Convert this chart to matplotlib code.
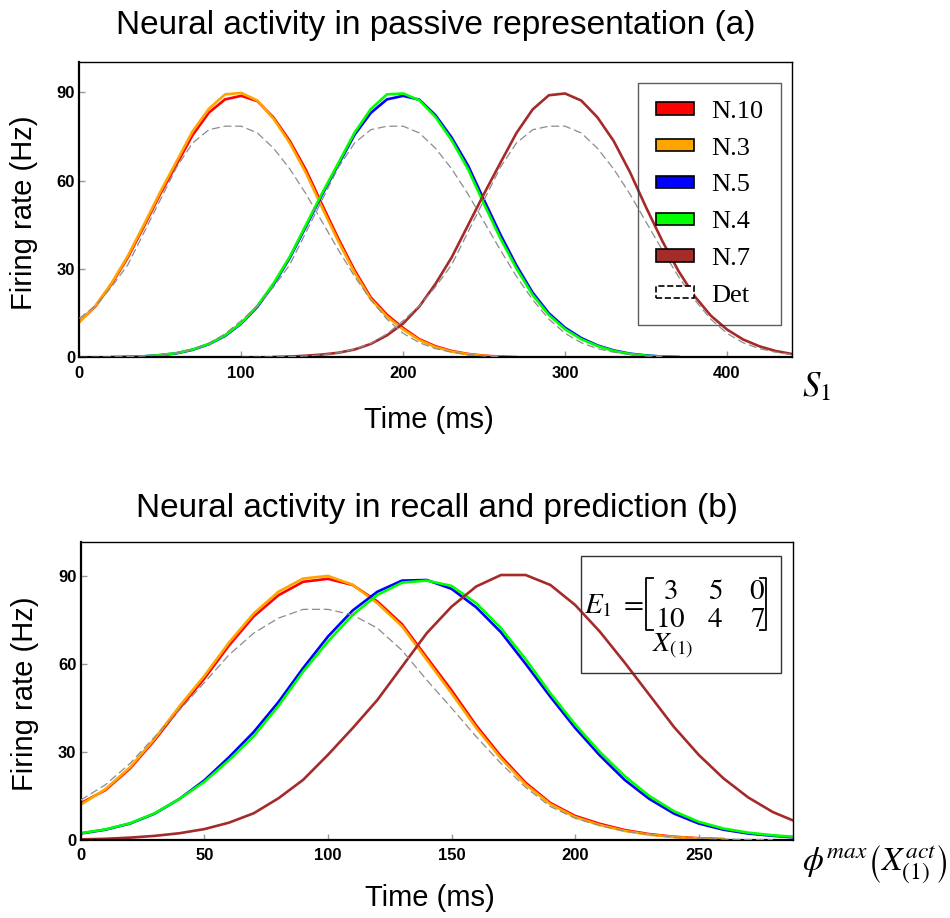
import numpy as np
import matplotlib
matplotlib.use('Agg')
from matplotlib import pyplot as plt
from matplotlib.patches import Patch, Rectangle

plt.rcParams['font.family'] = ['Liberation Sans', 'DejaVu Sans']
plt.rcParams['mathtext.fontset'] = 'stix'

# ---- data: panel (a), passive representation ----
t_a_n10 = np.arange(0, 280, 10)
n10_a = [12.2, 17.4, 25.0, 34.0, 44.6, 55.5, 65.5, 75.5, 83.1, 87.6, 88.8, 87.0, 81.4, 73.5,
         63.6, 51.8, 40.3, 29.6, 20.4, 14.5, 10.0, 6.2, 3.8, 2.2, 1.2, 0.6, 0.3, 0.1]
n3_a = [12.0, 17.6, 25.3, 34.5, 45.2, 56.2, 66.5, 76.8, 84.4, 89.3, 89.8, 87.2, 81.0, 72.8,
        62.6, 50.8, 39.4, 28.8, 19.8, 13.9, 9.5, 5.9, 3.5, 2.0, 1.1, 0.5, 0.2, 0.1]
t_a_n5 = np.arange(20, 380, 10)
n5_a = [0.1, 0.2, 0.4, 0.8, 1.4, 2.6, 4.5, 7.3, 11.5, 17.2, 24.8, 33.8, 44.5, 55.3, 65.5, 75.6,
        83.0, 87.6, 88.8, 87.5, 82.2, 74.6, 65.2, 53.4, 41.8, 31.2, 22.0, 15.0, 10.1, 6.6, 4.1,
        2.4, 1.3, 0.7, 0.3, 0.15]
n4_a = [0.1, 0.2, 0.4, 0.8, 1.5, 2.7, 4.6, 7.5, 11.7, 17.5, 25.2, 34.2, 45.0, 55.8, 66.0, 76.3,
        84.3, 89.3, 89.6, 87.3, 81.6, 73.7, 64.0, 52.0, 40.5, 30.2, 21.2, 14.4, 9.6, 6.2, 3.9,
        2.2, 1.2, 0.6, 0.3, 0.1]
t_a_n7 = np.arange(120, 450, 10)
n7_a = [0.15, 0.3, 0.6, 1.0, 1.6, 2.7, 4.6, 7.5, 11.5, 17.3, 25.0, 34.0, 44.8, 55.6, 66.0, 76.2,
        84.2, 89.0, 89.6, 87.2, 81.5, 73.5, 63.0, 51.0, 39.6, 29.4, 20.8, 14.2, 9.5, 6.1, 3.8,
        2.2, 1.2]
t_a_det1 = np.arange(0, 270, 10)
det1_a = [13.3, 17.5, 24.0, 31.5, 42.5, 53.5, 64.5, 72.8, 77.3, 78.5, 78.5, 76.2, 71.0, 64.0,
          55.5, 46.0, 36.5, 27.5, 19.6, 13.0, 8.2, 5.0, 3.0, 1.8, 1.0, 0.5, 0.3]
t_a_det2 = np.arange(0, 370, 10)
det2_a = [0.05, 0.1, 0.2, 0.3, 0.5, 0.9, 1.6, 2.8, 4.8, 8.0, 12.5, 17.5, 24.0, 31.5, 42.5, 53.5,
          64.5, 72.8, 77.3, 78.5, 78.5, 76.2, 71.0, 64.0, 55.5, 46.0, 36.5, 27.5, 19.6, 13.0,
          8.2, 5.0, 3.0, 1.8, 1.0, 0.5, 0.3]
t_a_det3 = np.arange(100, 450, 10)
det3_a = [0.05, 0.1, 0.2, 0.3, 0.5, 0.9, 1.6, 2.8, 4.8, 8.0, 12.5, 17.5, 24.0, 31.5, 42.5, 53.5,
          64.5, 72.8, 77.3, 78.5, 78.5, 76.2, 71.0, 64.0, 55.5, 46.0, 36.5, 27.5, 19.6, 13.0,
          8.2, 5.0, 3.0, 1.8, 1.0]

# ---- data: panel (b), recall and prediction ----
t_b_n10 = np.arange(0, 270, 10)
n10_b = [12.5, 17.0, 24.4, 34.1, 44.9, 55.0, 66.3, 76.2, 83.4, 88.0, 89.0, 86.9, 81.3, 73.5,
         62.2, 51.0, 39.0, 28.5, 19.5, 12.6, 8.2, 5.5, 3.4, 2.0, 1.1, 0.6, 0.3]
n3_b = [12.0, 17.3, 24.8, 34.6, 45.6, 55.9, 67.3, 77.2, 84.6, 89.1, 90.0, 87.0, 80.7, 72.8,
        61.4, 50.0, 38.2, 27.8, 18.9, 12.2, 7.8, 5.1, 3.1, 1.8, 1.0, 0.5, 0.2]
t_b_n5 = np.arange(0, 300, 10)
n5_b = [2.2, 3.5, 5.6, 9.0, 14.0, 20.3, 28.2, 36.8, 47.0, 58.6, 69.3, 78.2, 84.6, 88.4, 88.6,
        85.6, 79.3, 70.8, 60.0, 48.8, 38.2, 28.8, 20.5, 14.0, 9.0, 5.6, 3.5, 2.2, 1.4, 0.8]
n4_b = [2.3, 3.6, 5.7, 9.1, 14.0, 19.8, 27.2, 35.4, 45.7, 57.4, 67.6, 76.7, 83.5, 87.7, 88.4,
        86.6, 80.7, 72.2, 61.6, 50.0, 39.4, 30.0, 21.8, 15.0, 9.8, 6.2, 3.9, 2.5, 1.6, 1.0]
t_b_n7 = np.arange(0, 300, 10)
n7_b = [0.2, 0.4, 0.8, 1.4, 2.3, 3.7, 5.9, 9.1, 14.2, 20.5, 29.0, 38.1, 47.7, 59.1, 70.5, 79.5,
        86.4, 90.3, 90.3, 86.9, 80.1, 71.0, 60.5, 49.5, 38.5, 29.0, 21.0, 14.5, 9.5, 6.0]
t_b_det = np.arange(0, 290, 10)
det_b = [13.6, 18.8, 26.1, 35.2, 44.3, 53.6, 63.1, 70.5, 75.6, 78.6, 78.6, 76.7, 72.2, 64.6,
         54.5, 45.0, 35.2, 26.1, 17.9, 11.4, 7.4, 4.9, 3.0, 1.8, 1.0, 0.6, 0.3, 0.15, 0.1]

E1 = [[3, 5, 0], [10, 4, 7]]

labels = ['N.10', 'N.3', 'N.5', 'N.4', 'N.7']
colors = ['#ff0000', '#ffa500', '#0000ff', '#00ff00', '#a52a2a']
yticks = [0, 30, 60, 90]

fig = plt.figure(figsize=(9.5, 9.18), dpi=100)
ax1 = fig.add_axes([0.0835, 0.6106, 0.7499, 0.3219])
ax2 = fig.add_axes([0.0849, 0.0850, 0.7495, 0.3241])


def style_axes(ax, xticks, xmax, ymax):
    ax.set_xlim(0, xmax)
    ax.set_ylim(0, ymax)
    ax.set_xticks(xticks)
    ax.set_yticks(yticks)
    ax.tick_params(direction='in', length=4, width=1, color='#999999', labelsize=12)
    ax.tick_params(axis='x', pad=6)
    ax.tick_params(axis='y', pad=3)
    for lab in ax.get_xticklabels() + ax.get_yticklabels():
        lab.set_fontweight('bold')
    for side in ['top', 'right']:
        ax.spines[side].set_linewidth(1.0)
    for side in ['bottom', 'left']:
        ax.spines[side].set_linewidth(1.6)
    ax.set_ylabel('Firing rate (Hz)', fontsize=21, va='center')
    ax.yaxis.set_label_coords(-0.0776, 0.49)


# ---- panel (a) ----
for t, y, c in zip([t_a_n10, t_a_n10, t_a_n5, t_a_n5, t_a_n7],
                   [n10_a, n3_a, n5_a, n4_a, n7_a], colors):
    ax1.plot(t, y, color=c, lw=1.9)
for t, y in [(t_a_det1, det1_a), (t_a_det2, det2_a), (t_a_det3, det3_a)]:
    ax1.plot(t, y, color='#8c8c8c', lw=0.9, dashes=(6.4, 3.0), zorder=5)
style_axes(ax1, [0, 100, 200, 300, 400], 440, 100.3)
ax1.set_title('Neural activity in passive representation (a)', fontsize=24,
              y=1.125, va='center', pad=0)
ax1.set_xlabel('Time (ms)', fontsize=21, va='center')
ax1.xaxis.set_label_coords(0.49, -0.2115)

handles = [Patch(facecolor=c, edgecolor='black', linewidth=1.2) for c in colors]
handles.append(Patch(facecolor='white', edgecolor='black', linewidth=1.2, linestyle='--'))
leg = ax1.legend(handles, labels + ['Det'], loc='upper right', bbox_to_anchor=(0.985, 0.929),
                 frameon=True, fancybox=False, edgecolor='#333333', facecolor='none',
                 prop={'family': 'Liberation Serif', 'size': 19}, handlelength=1.45,
                 handleheight=0.34, handletextpad=0.65, labelspacing=0.56, borderpad=0.68,
                 borderaxespad=0)
leg.get_frame().set_linewidth(1.0)

# ---- panel (b) ----
for t, y, c in zip([t_b_n10, t_b_n10, t_b_n5, t_b_n5, t_b_n7],
                   [n10_b, n3_b, n5_b, n4_b, n7_b], colors):
    ax2.plot(t, y, color=c, lw=1.9)
ax2.plot(t_b_det, det_b, color='#8c8c8c', lw=0.9, dashes=(6.4, 3.0), zorder=5)
style_axes(ax2, [0, 50, 100, 150, 200, 250], 288, 101.4)
ax2.set_title('Neural activity in recall and prediction (b)', fontsize=24,
              y=1.115, va='center', pad=0)
ax2.set_xlabel('Time (ms)', fontsize=21, va='center')
ax2.xaxis.set_label_coords(0.49, -0.195)

# matrix box
ax2.add_patch(Rectangle((0.7027, 0.5613), 0.2809, 0.3933, transform=ax2.transAxes,
                        fill=False, ec='#333333', lw=1.0, zorder=6))
ax2.text(0.749, 0.790, r'$E_1\;=$', transform=ax2.transAxes, fontsize=21,
         ha='center', va='center')
col_x = [0.828, 0.891, 0.950]
row_y = [0.836, 0.744]
for i, row in enumerate(E1):
    for j, v in enumerate(row):
        ax2.text(col_x[j], row_y[i], r'$%d$' % v, transform=ax2.transAxes, fontsize=21,
                 ha='center', va='center')
for x0, x1 in [(0.7945, 0.8040), (0.9630, 0.9535)]:
    ax2.plot([x1, x0, x0, x1], [0.880, 0.880, 0.706, 0.706], color='black', lw=1.3,
             transform=ax2.transAxes, clip_on=False, zorder=6)
ax2.text(0.832, 0.652, r'$X_{(1)}$', transform=ax2.transAxes, fontsize=20,
         ha='center', va='center')

fig.text(0.859, 0.579, r'$S_1$', fontsize=25, ha='center', va='center')
fig.text(0.921, 0.0577, r'$\phi^{max}\left(X_{(1)}^{act}\right)$', fontsize=24,
         ha='center', va='center')

fig.savefig('out.png', dpi=100)
